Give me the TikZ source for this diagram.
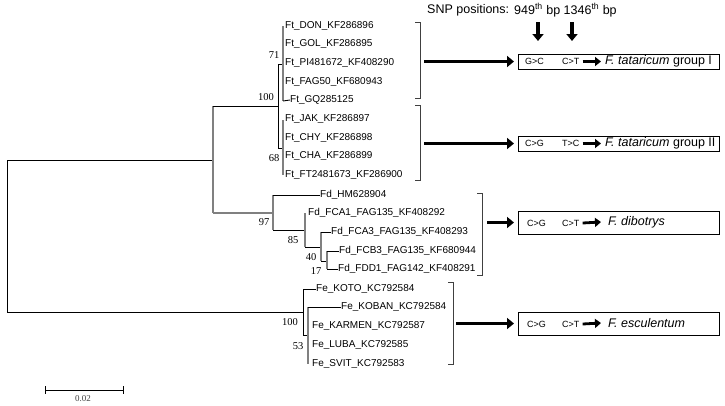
\documentclass[tikz,border=0pt]{standalone}
\usepackage{fontspec}
\setmainfont{Liberation Sans}
\newfontfamily\serifnum{Liberation Serif}
\usetikzlibrary{arrows.meta}
\definecolor{treegray}{HTML}{808080}
\begin{document}
\begin{tikzpicture}[x=1pt,y=-1pt,
  lab/.style={anchor=west, inner sep=0pt, font=\fontsize{10}{12}\selectfont},
  bs/.style={inner sep=0pt, font=\serifnum\fontsize{10.5}{12}\selectfont},
  br/.style={line width=0.9pt, color=black!75},
  tb/.style={line width=0.9pt, black},
  tg/.style={line width=1.1pt, treegray},
  bigarrow/.style={line width=3.5pt, -{Triangle[length=7pt,width=11pt]}},
  smallarrow/.style={line width=2.8pt, -{Triangle[length=6pt,width=9pt]}},
  snpbox/.style={draw, line width=0.9pt, anchor=north west, inner sep=0pt},
  boxtxt/.style={anchor=west, inner sep=0pt, font=\fontsize{9}{11}\selectfont},
  sptxt/.style={anchor=west, inner sep=0pt, font=\fontsize{12.5}{14}\selectfont}
]
\useasboundingbox (0,0) rectangle (725,405);

% ---- tree skeleton (internal node coordinates)
\coordinate (r1) at (7,160);
\coordinate (r2) at (7,312);
\coordinate (a1) at (213,106);
\coordinate (a0) at (213,160);
\coordinate (a2) at (213,213);
\coordinate (b1) at (278,64);
\coordinate (b2) at (278,148);
\coordinate (b0) at (278,106);
\coordinate (c0) at (273,213);
\coordinate (c1) at (273,195);
\coordinate (c2) at (273,230);
\coordinate (d0) at (305,230);
\coordinate (d1) at (305,213);
\coordinate (d2) at (305,247);
\coordinate (e0) at (321,247);
\coordinate (e1) at (321,232);
\coordinate (e2) at (321,261);
\coordinate (f0) at (327,261);
\coordinate (f1) at (327,251);
\coordinate (f2) at (327,269);
\coordinate (g0) at (303,312);
\coordinate (g1) at (303,289);
\coordinate (g2) at (303,335);
\coordinate (h0) at (308,335);
\coordinate (h1) at (308,307);
\coordinate (h2) at (308,364);

% ---- leaf labels
\node[lab] (t1) at (285,26) {Ft\_DON\_KF286896};
\node[lab] (t2) at (285,44) {Ft\_GOL\_KF286895};
\node[lab] (t3) at (285,63) {Ft\_PI481672\_KF408290};
\node[lab] (t4) at (285,82) {Ft\_FAG50\_KF680943};
\node[lab] (t5) at (290,100) {Ft\_GQ285125};
\node[lab] (t6) at (285,119) {Ft\_JAK\_KF286897};
\node[lab] (t7) at (285,138) {Ft\_CHY\_KF286898};
\node[lab] (t8) at (285,156) {Ft\_CHA\_KF286899};
\node[lab] (t9) at (285,175) {Ft\_FT2481673\_KF286900};
\node[lab] (d1l) at (320,195) {Fd\_HM628904};
\node[lab] (d2l) at (308,213) {Fd\_FCA1\_FAG135\_KF408292};
\node[lab] (d3l) at (331,232) {Fd\_FCA3\_FAG135\_KF408293};
\node[lab] (d4l) at (339,251) {Fd\_FCB3\_FAG135\_KF680944};
\node[lab] (d5l) at (338,269) {Fd\_FDD1\_FAG142\_KF408291};
\node[lab] (e1l) at (316,289) {Fe\_KOTO\_KC792584};
\node[lab] (e2l) at (341,307) {Fe\_KOBAN\_KC792584};
\node[lab] (e3l) at (312,326) {Fe\_KARMEN\_KC792587};
\node[lab] (e4l) at (312,345) {Fe\_LUBA\_KC792585};
\node[lab] (e5l) at (312,364) {Fe\_SVIT\_KC792583};

% ---- branches
\draw[tb] (r1) -- (r2);
\draw[tb] (r1) -- (a0);
\draw[tb] (r2) -- (g0);
\draw[tg] (a1) -- (a2);
\draw[tb] (a1) -- (b0);
\draw[tg] (a2) -- (c0);
\draw[tb] (b1) -- (b2);
\draw[tb] (b1) -- (283,64);
\draw[tb] (b2) -- (283,148);
\draw[tg] (283,26) -- (283,101);
\draw[tb] (283,101) -- (t5.west);
\draw[tg] (283,120) -- (283,175);
\draw[tg] (c1) -- (c2);
\draw[tb] (c1) -- (d1l.west);
\draw[tb] (c2) -- (d0);
\draw[tg] (d1) -- (d2);
\draw[tb] (d2) -- (e0);
\draw[tg] (e1) -- (e2);
\draw[tb] (e1) -- (d3l.west);
\draw[tb] (e2) -- (f0);
\draw[tg] (f1) -- (f2);
\draw[tb] (f1) -- (d4l.west);
\draw[tb] (f2) -- (d5l.west);
\draw[tb] (g1) -- (g2);
\draw[tb] (g1) -- (e1l.west);
\draw[tb] (g2) -- (h0);
\draw[tg] (h1) -- (h2);
\draw[tb] (h1) -- (e2l.west);

% ---- bootstrap values
\node[bs] (bs71) at (274,55) {71};
\node[bs] (bs100a) at (266,97) {100};
\node[bs] (bs68) at (274,158) {68};
\node[bs] (bs97) at (264,222) {97};
\node[bs] (bs85) at (293,240) {85};
\node[bs] (bs40) at (311,257) {40};
\node[bs] (bs17) at (316,271) {17};
\node[bs] (bs100b) at (290,322) {100};
\node[bs] (bs53) at (298,346) {53};

% ---- brackets
\draw[br] (415,22) -- (420,22) -- (420,98) -- (415,98);
\draw[br] (415,105) -- (420,105) -- (420,180) -- (415,180);
\draw[br] (477,193) -- (482,193) -- (482,275) -- (477,275);
\draw[br] (448,282) -- (453,282) -- (453,364) -- (448,364);

% ---- boxes
\node[snpbox, minimum width=201pt, minimum height=15pt] (box1) at (518,54) {};
\node[snpbox, minimum width=201pt, minimum height=15pt] (box2) at (518,136) {};
\node[snpbox, minimum width=201pt, minimum height=23pt] (box3) at (518,211) {};
\node[snpbox, minimum width=201pt, minimum height=23pt] (box4) at (518,312) {};
\coordinate (k1) at (424,61.5);
\coordinate (k2) at (424,143.5);
\coordinate (k3) at (487,222.5);
\coordinate (k4) at (456,323.5);
\coordinate (q1) at (514,61.5);
\coordinate (q2) at (514,143.5);
\coordinate (q3) at (514,222.5);
\coordinate (q4) at (514,323.5);
\draw[bigarrow] (k1) -- (q1);
\draw[bigarrow] (k2) -- (q2);
\draw[bigarrow] (k3) -- (q3);
\draw[bigarrow] (k4) -- (q4);

% box contents
\node[boxtxt] (m11) at (525,61.5) {G>C};
\node[boxtxt] (m12) at (562,61.5) {C>T};
\node[sptxt] (s1) at (605,61.5) {\textit{F. tataricum} group I};
\node[boxtxt] (m21) at (525,143.5) {C>G};
\node[boxtxt] (m22) at (562,143.5) {T>C};
\node[sptxt] (s2) at (605,143.5) {\textit{F. tataricum} group II};
\node[boxtxt] (m31) at (527,223) {C>G};
\node[boxtxt] (m32) at (562,223) {C>T};
\node[sptxt] (s3) at (608,222) {\textit{F. dibotrys}};
\node[boxtxt] (m41) at (527,324) {C>G};
\node[boxtxt] (m42) at (562,324) {C>T};
\node[sptxt] (s4) at (608,323) {\textit{F. esculentum}};
\draw[smallarrow] ([xshift=3pt]m12.east) -- ([xshift=-4pt]s1.west);
\draw[smallarrow] ([xshift=3pt]m22.east) -- ([xshift=-4pt]s2.west);
\draw[smallarrow] ([xshift=3pt]m32.east) -- ([xshift=-7pt]s3.west);
\draw[smallarrow] ([xshift=3pt]m42.east) -- ([xshift=-7pt]s4.west);

% ---- SNP header
\node[anchor=west, inner sep=0pt, font=\fontsize{12.5}{14}\selectfont] (snp) at (427,10) {SNP positions:};
\node[anchor=west, inner sep=0pt, font=\fontsize{12.5}{14}\selectfont] (pos) at (514,10) {949\textsuperscript{th} bp 1346\textsuperscript{th} bp};
\coordinate (p1) at (538,22);
\coordinate (p2) at (572,22);
\coordinate (p1e) at (538,41);
\coordinate (p2e) at (572,41);
\draw[bigarrow] (p1) -- (p1e);
\draw[bigarrow] (p2) -- (p2e);

% ---- scale bar
\coordinate (sb1) at (45,390);
\coordinate (sb2) at (123,390);
\draw[tb] (sb1) -- (sb2);
\draw[tb] (45,386) -- (45,394);
\draw[tb] (123,386) -- (123,394);
\node[inner sep=0pt, font=\serifnum\fontsize{9}{10}\selectfont, text=black!75] (sbl) at (83,399) {0.02};
\end{tikzpicture}
\end{document}
